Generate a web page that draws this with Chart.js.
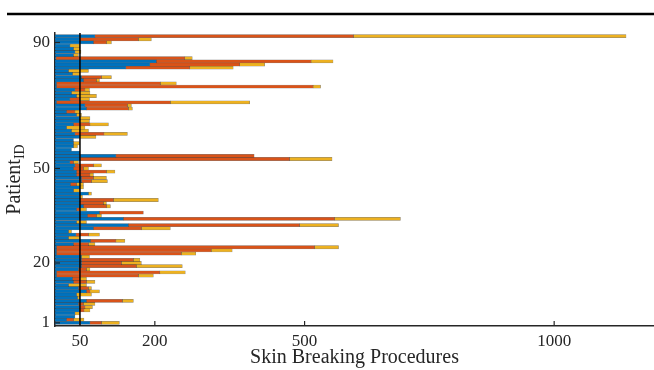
<!DOCTYPE html>
<html>
<head>
<meta charset="utf-8">
<script src="https://cdn.jsdelivr.net/npm/chart.js@4/dist/chart.umd.min.js"></script>
<style>
  body { margin: 0; background: #fff; }
  #wrap { width: 654px; height: 370px; position: relative; }
</style>
</head>
<body>
<div id="wrap"><canvas id="myChart"></canvas></div>
<script>
// procedures per patient, patient 1 first
const blueVals = [70, 23, 40, 40, 49, 49, 47, 63, 45, 43, 63, 47, 27, 37, 35, 3, 3, 47, 53, 53,
  53, 53, 3, 3, 3, 37, 71, 27, 42, 27, 77, 147, 43, 137, 65, 89, 43, 57, 50, 50,
  50, 67, 37, 50, 31, 53, 53, 43, 43, 37, 40, 30, 50, 122, 50, 33, 37, 37, 37, 50,
  40, 33, 23, 37, 50, 50, 43, 23, 63, 60, 3, 30, 43, 33, 40, 3, 3, 57, 53, 35,
  27, 142, 190, 203, 2, 37, 40, 37, 30, 77, 50, 80];
const redVals = [23, 14, 0, 0, 9, 11, 10, 72, 0, 0, 7, 20, 0, 26, 15, 164, 207, 16, 110, 80,
  104, 0, 250, 310, 517, 30, 51, 0, 25, 0, 96, 343, 0, 423, 18, 88, 7, 46, 47, 67,
  0, 0, 0, 0, 12, 20, 24, 27, 60, 20, 37, 7, 420, 277, 0, 0, 0, 0, 0, 0,
  58, 0, 0, 33, 0, 0, 0, 17, 84, 85, 228, 20, 0, 0, 20, 514, 208, 26, 40, 0,
  0, 128, 180, 310, 258, 0, 0, 0, 0, 26, 117, 518];
const yellowVals = [36, 21, 0, 9, 12, 15, 23, 22, 5, 30, 19, 6, 36, 17, 13, 30, 51, 7, 92, 40,
  13, 16, 29, 42, 48, 13, 18, 23, 22, 6, 58, 78, 20, 132, 10, 0, 13, 8, 6, 90,
  5, 6, 13, 7, 14, 32, 26, 7, 17, 10, 16, 10, 85, 0, 0, 0, 8, 12, 0, 32,
  47, 34, 37, 37, 19, 20, 10, 10, 8, 8, 159, 19, 40, 37, 9, 15, 32, 6, 20, 15,
  40, 87, 50, 44, 15, 10, 12, 13, 20, 10, 26, 546];
const patientIds = blueVals.map((v, i) => i + 1);
const xTicks = [50, 200, 500, 1000];
const yTicks = [1, 20, 50, 90];
const markLine = 50;

const textColor = '#262626';
const serif = "'Liberation Serif', 'DejaVu Serif', serif";

function pts(vals) {
  return vals.map((v, i) => ({ x: v, y: patientIds[i] }));
}

// extra drawing: top rule, line at 50, inward ticks, y title with subscript
const extras = {
  id: 'extras',
  beforeDraw(chart) {
    const c = chart.ctx;
    c.save();
    c.strokeStyle = '#000';
    c.lineWidth = 2.5;
    c.beginPath();
    c.moveTo(7, 14);
    c.lineTo(654, 14);
    c.stroke();
    c.restore();
  },
  afterDatasetsDraw(chart) {
    const c = chart.ctx;
    const a = chart.chartArea;
    const xs = chart.scales.x;
    const ys = chart.scales.y;
    c.save();
    c.strokeStyle = '#000';
    c.lineWidth = 1.5;
    const lx = xs.getPixelForValue(markLine);
    c.beginPath();
    c.moveTo(lx, a.top);
    c.lineTo(lx, a.bottom);
    c.stroke();

    c.strokeStyle = textColor;
    c.lineWidth = 1.2;
    yTicks.forEach(t => {
      const py = ys.getPixelForValue(t);
      c.beginPath();
      c.moveTo(a.left, py);
      c.lineTo(a.left + 5, py);
      c.stroke();
    });
    xTicks.forEach(t => {
      const px = xs.getPixelForValue(t);
      c.beginPath();
      c.moveTo(px, a.bottom);
      c.lineTo(px, a.bottom - 5);
      c.stroke();
    });

    // Patient_ID
    c.fillStyle = textColor;
    c.translate(20, (a.top + a.bottom) / 2);
    c.rotate(-Math.PI / 2);
    c.font = '20px ' + serif;
    const w1 = c.measureText('Patient').width;
    c.font = '14px ' + serif;
    const w2 = c.measureText('ID').width;
    const start = -(w1 + w2) / 2;
    c.textBaseline = 'alphabetic';
    c.font = '20px ' + serif;
    c.fillText('Patient', start, 0);
    c.font = '14px ' + serif;
    c.fillText('ID', start + w1, 4);
    c.restore();
  }
};

let ctx = document.getElementById('myChart');
let myChart = new Chart(ctx, {
  type: 'bar',
  data: {
    datasets: [
      { data: pts(blueVals), backgroundColor: '#0072BD' },
      { data: pts(redVals), backgroundColor: '#D95319' },
      { data: pts(yellowVals), backgroundColor: '#EDB120' }
    ]
  },
  options: {
    indexAxis: 'y',
    responsive: true,
    maintainAspectRatio: false,
    animation: false,
    devicePixelRatio: 1,
    layout: { padding: { top: 33, right: 0, left: 0, bottom: 0 } },
    datasets: {
      bar: {
        barPercentage: 1,
        categoryPercentage: 1,
        borderColor: 'rgba(0,0,0,0.5)',
        borderWidth: 0.5,
        borderSkipped: false
      }
    },
    plugins: {
      legend: { display: false },
      tooltip: { enabled: false }
    },
    scales: {
      x: {
        type: 'linear',
        stacked: true,
        offset: false,
        min: 0,
        max: 1200,
        afterBuildTicks: s => { s.ticks = xTicks.map(v => ({ value: v })); },
        afterFit: s => { s.height = 44; },
        grid: { display: false, drawTicks: false },
        border: { display: true, color: textColor, width: 1.5 },
        ticks: {
          color: textColor,
          font: { family: serif, size: 17 },
          padding: 5,
          callback: v => String(v)
        },
        title: {
          display: true,
          text: 'Skin Breaking Procedures',
          color: textColor,
          font: { family: serif, size: 20 },
          padding: { top: 0, bottom: 0 }
        }
      },
      y: {
        type: 'linear',
        stacked: true,
        offset: false,
        min: 0,
        max: 93,
        afterBuildTicks: s => { s.ticks = yTicks.map(v => ({ value: v })); },
        afterFit: s => { s.width = 55; },
        grid: { display: false, drawTicks: false },
        border: { display: true, color: textColor, width: 1.5 },
        ticks: {
          color: textColor,
          font: { family: serif, size: 17 },
          padding: 5,
          callback: v => String(v)
        }
      }
    }
  },
  plugins: [extras]
});
</script>
</body>
</html>
